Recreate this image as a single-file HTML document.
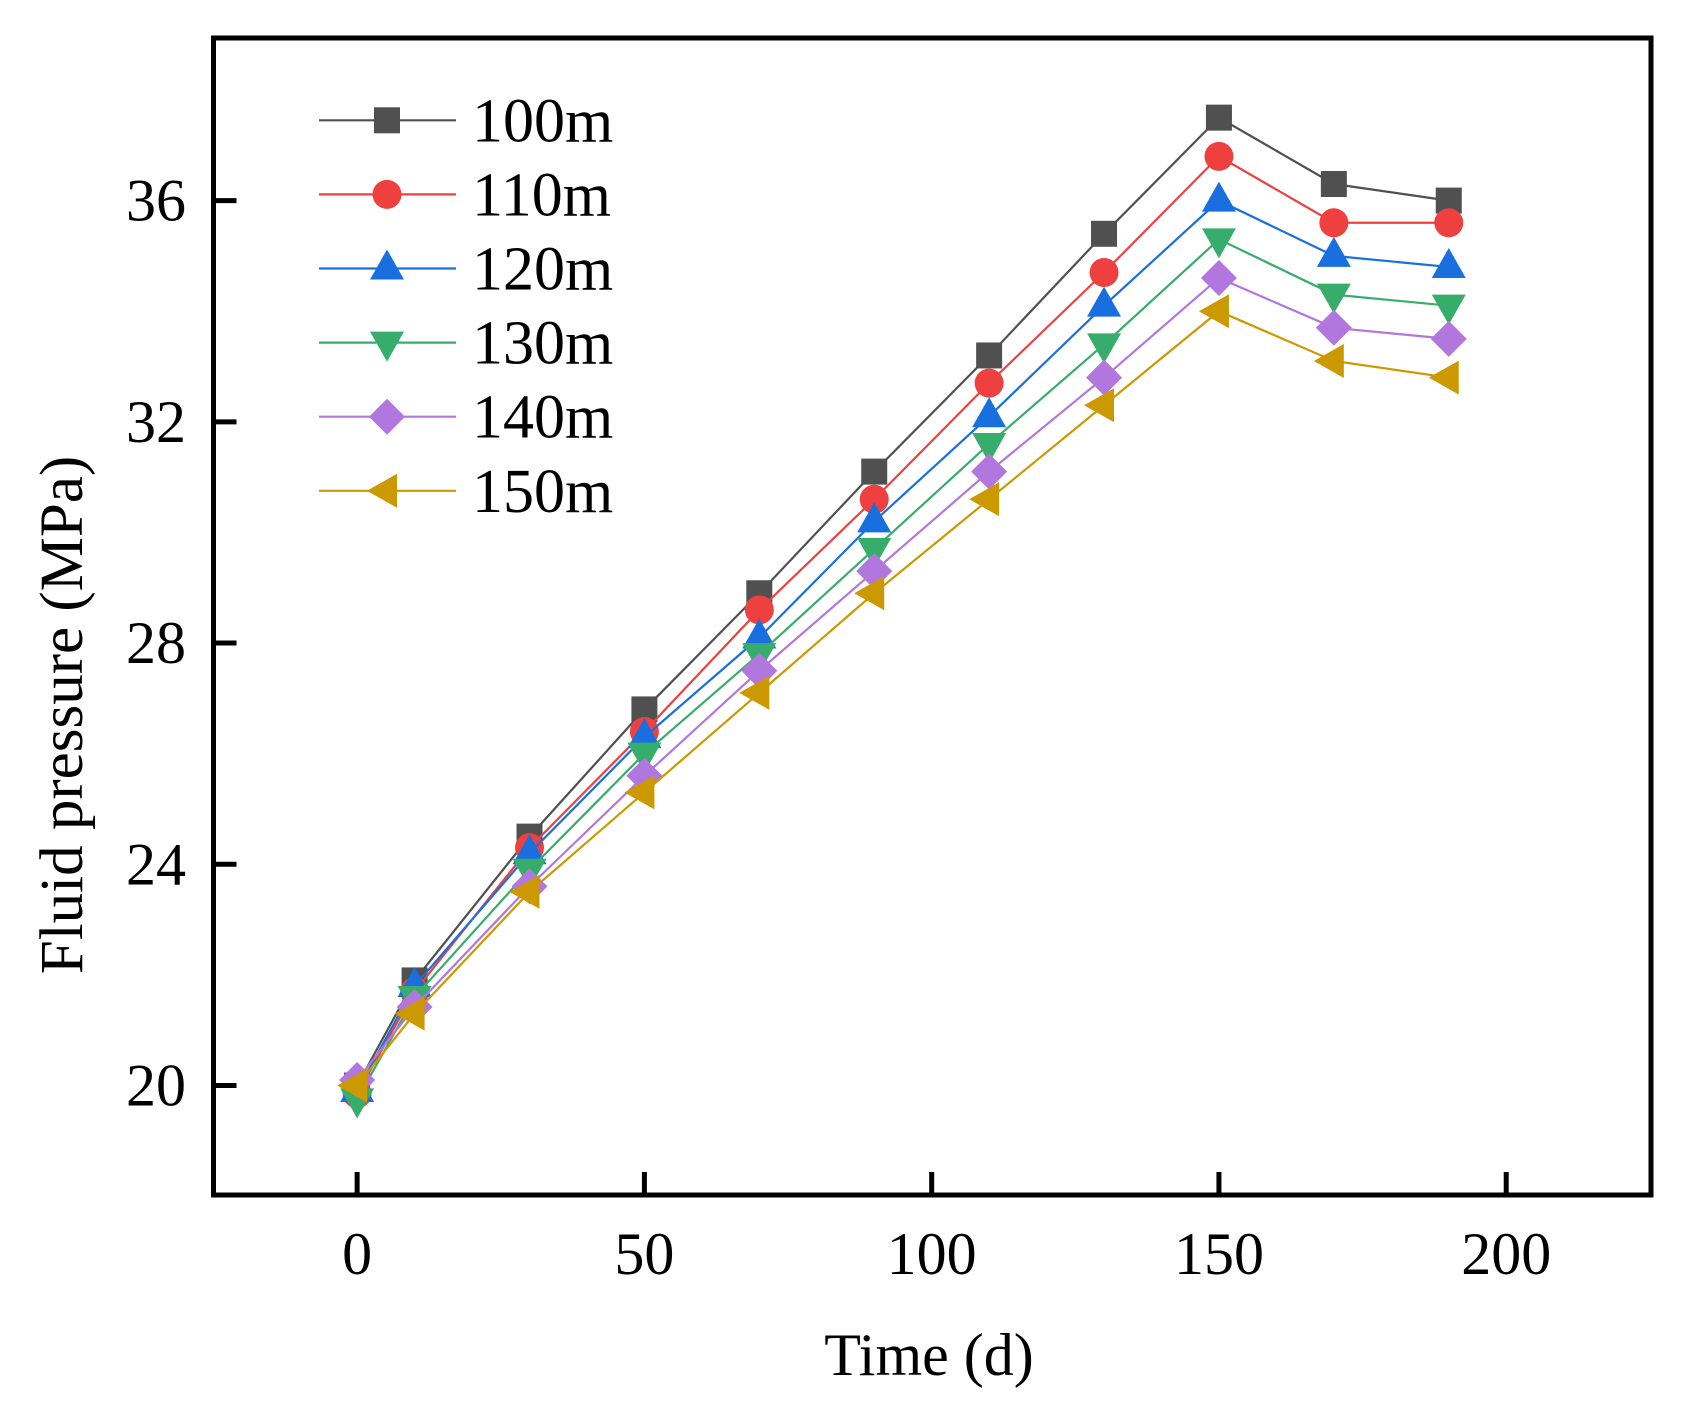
<!DOCTYPE html>
<html><head><meta charset="utf-8"><style>
html,body{margin:0;padding:0;background:#fff;}
svg{display:block;font-family:"Liberation Serif",serif;}
</style></head><body>
<svg id="chart" width="1681" height="1405" viewBox="0 0 1681 1405" xmlns="http://www.w3.org/2000/svg">
<rect x="0" y="0" width="1681" height="1405" fill="#fff"/>
<g id="marks"></g>
<g id="axes"></g>
<g id="legend"></g>
<text x="929" y="1375" font-size="60" text-anchor="middle">Time (d)</text>
<text transform="translate(82,715) rotate(-90)" font-size="61" text-anchor="middle">Fluid pressure (MPa)</text>
</svg>
<script>
const times = [0,10,30,50,70,90,110,130,150,170,190];
const seriesNames = ["100m","110m","120m","130m","140m","150m"];
const s100 = [20.0,21.9,24.5,26.8,28.9,31.1,33.2,35.4,37.5,36.3,36.0];
const s110 = [19.85,21.7,24.3,26.4,28.6,30.6,32.7,34.7,36.8,35.6,35.6];
const s120 = [19.9,21.8,24.2,26.3,28.1,30.2,32.1,34.1,36.0,35.0,34.8];
const s130 = [19.75,21.6,23.9,26.0,27.8,29.7,31.6,33.4,35.3,34.3,34.1];
const s140 = [20.1,21.42,23.6,25.6,27.5,29.3,31.1,32.8,34.6,33.7,33.5];
const s150 = [20.0,21.3,23.5,25.3,27.1,28.9,30.6,32.3,34.0,33.1,32.8];
const xTicks = [0,50,100,150,200];
const yTicks = [20,24,28,32,36];

const allSeries = [s100,s110,s120,s130,s140,s150];
const colors = ["#505050","#ef4040","#1a6fdf","#37ad6b","#b177de","#cc9900"];
const shapes = ["square","circle","up","down","diamond","left"];
const NS = "http://www.w3.org/2000/svg";
const X0=213.5, X1=1651, Y0=38, Y1=1195;
const xMin=-25.0, xMax=225.2, yMin=18.02, yMax=38.94;
function xs(t){return X0+(t-xMin)/(xMax-xMin)*(X1-X0);}
function ys(v){return Y1-(v-yMin)/(yMax-yMin)*(Y1-Y0);}
function el(tag,attrs,parent){const e=document.createElementNS(NS,tag);for(const k in attrs)e.setAttribute(k,attrs[k]);parent.appendChild(e);return e;}
function marker(shape,cx,cy,color,parent){
  let e;
  if(shape==="square"){e=el("rect",{x:cx-13,y:cy-13,width:26,height:26,fill:color},parent);}
  else if(shape==="circle"){e=el("circle",{cx:cx,cy:cy,r:14.5,fill:color},parent);}
  else if(shape==="up"){e=el("polygon",{points:`${cx},${cy-19} ${cx+17},${cy+11} ${cx-17},${cy+11}`,fill:color},parent);}
  else if(shape==="down"){e=el("polygon",{points:`${cx-17},${cy-11} ${cx+17},${cy-11} ${cx},${cy+19}`,fill:color},parent);}
  else if(shape==="diamond"){e=el("polygon",{points:`${cx},${cy-18} ${cx+18},${cy} ${cx},${cy+18} ${cx-18},${cy}`,fill:color},parent);}
  else {e=el("polygon",{points:`${cx-20},${cy} ${cx+10},${cy-17} ${cx+10},${cy+17}`,fill:color},parent);}
  return e;
}
const marks=document.getElementById("marks");
allSeries.forEach((s,i)=>{
  const g=el("g",{},marks);
  
  
  const pl=el("polyline",{points:s.map((v,j)=>xs(times[j])+","+ys(v)).join(" "),fill:"none",stroke:colors[i],"stroke-width":2.2},g);
  
  
  s.forEach((v,j)=>{
    const m=marker(shapes[i],xs(times[j]),ys(v),colors[i],g);
    
    
  });
});
const axes=document.getElementById("axes");
const frame=el("rect",{x:X0,y:Y0,width:X1-X0,height:Y1-Y0,fill:"none",stroke:"#000","stroke-width":5},axes);


xTicks.forEach(t=>{
  const x=xs(t);
  const tk=el("line",{x1:x,y1:Y1,x2:x,y2:Y1-23,stroke:"#000","stroke-width":5},axes);
  
  
  const lb=el("text",{x:x,y:1274,"font-size":60,"text-anchor":"middle"},axes);
  lb.textContent=t;
  
  
});
yTicks.forEach(v=>{
  const y=ys(v);
  const tk=el("line",{x1:X0,y1:y,x2:X0+23,y2:y,stroke:"#000","stroke-width":5},axes);
  
  
  const lb=el("text",{x:186,y:y+20,"font-size":60,"text-anchor":"end"},axes);
  lb.textContent=v;
  
  
});
const legend=document.getElementById("legend");
seriesNames.forEach((n,i)=>{
  const y=120.3+i*74.1;
  const g=el("g",{},legend);
  
  
  el("line",{x1:319,y1:y,x2:456,y2:y,stroke:colors[i],"stroke-width":2.2},g);
  marker(shapes[i],387,y,colors[i],g);
  const t=el("text",{x:472,y:y+21,"font-size":62},g);
  t.textContent=n;
});
</script>
</body></html>
